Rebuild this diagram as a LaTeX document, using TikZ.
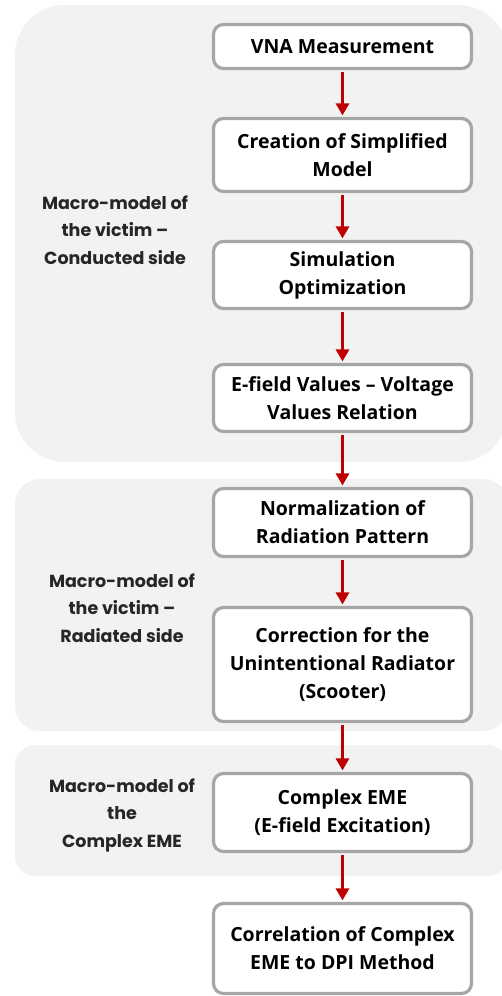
\documentclass[tikz,border=0pt]{standalone}
\usepackage{fontspec}
\setmainfont{Open Sans}
\newfontfamily\labelfont{Poppins}
\usetikzlibrary{arrows.meta}
\definecolor{panel}{HTML}{F2F2F2}
\definecolor{boxline}{HTML}{A6A6A6}
\definecolor{arrowred}{HTML}{C00000}
\definecolor{labeltext}{HTML}{262626}
\begin{document}
\begin{tikzpicture}[x=1pt,y=-1pt,
 stepbox/.style={draw=boxline, line width=3.2pt, fill=white, rounded corners=10pt,
   minimum width=258pt, inner sep=0pt, align=center,
   font=\fontsize{19.5}{28}\selectfont\bfseries, text=black},
 flow/.style={draw=arrowred, line width=3pt, shorten >=1.5pt, shorten <=1.5pt,
   -{Triangle[length=12pt,width=13pt]}},
 grouplabel/.style={align=center, font=\labelfont\fontsize{17.5}{27.5}\selectfont\bfseries, text=labeltext}
]
\useasboundingbox (0,0) rectangle (501,996);
\fill[white] (0,0) rectangle (501,996);
% group panels
\fill[panel, rounded corners=50pt] (15,5) rectangle (508,462);
\fill[panel, rounded corners=25pt] (15,479) rectangle (508,731);
\fill[panel, rounded corners=20pt] (15,745) rectangle (508,876);
% group labels
\node[grouplabel] (g1) at (115,230) {Macro-model of\\the victim –\\Conducted side};
\node[grouplabel] (g2) at (122,608) {Macro-model of\\the victim –\\Radiated side};
\node[grouplabel] (g3) at (122,815) {Macro-model of\\the\\Complex EME};
% steps
\node[stepbox, minimum height=44pt]  (b1) at (342.5,46.5) {VNA Measurement};
\node[stepbox, minimum height=73pt]  (b2) at (342.5,155) {Creation of Simplified\\Model};
\node[stepbox, minimum height=67pt]  (b3) at (342.5,275) {Simulation\\Optimization};
\node[stepbox, minimum height=67pt]  (b4) at (342.5,398) {E-field Values – Voltage\\Values Relation};
\node[stepbox, minimum height=68pt]  (b5) at (342.5,522.5) {Normalization of\\Radiation Pattern};
\node[stepbox, minimum height=114pt] (b6) at (342.5,664.5) {Correction for the\\Unintentional Radiator\\(Scooter)};
\node[stepbox, minimum height=78pt]  (b7) at (342.5,812.5) {Complex EME\\(E-field Excitation)};
\node[stepbox, minimum height=90pt]  (b8) at (342.5,948.5) {Correlation of Complex\\EME to DPI Method};
% connectors
\draw[flow] (b1) -- (b2);
\draw[flow] (b2) -- (b3);
\draw[flow] (b3) -- (b4);
\draw[flow] (b4) -- (b5);
\draw[flow] (b5) -- (b6);
\draw[flow] (b6) -- (b7);
\draw[flow] (b7) -- (b8);
\end{tikzpicture}
\end{document}
